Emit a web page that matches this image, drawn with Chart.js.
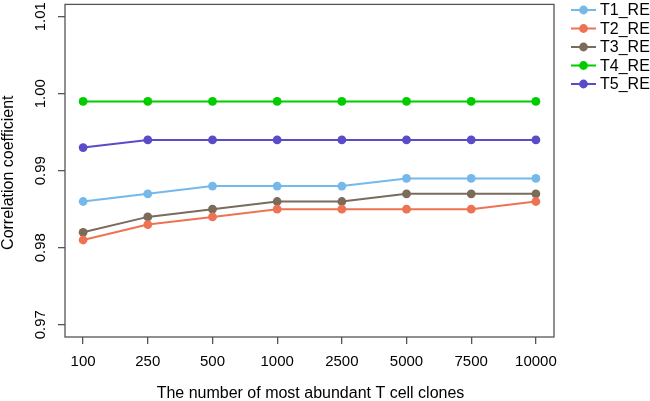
<!DOCTYPE html>
<html><head><meta charset="utf-8">
<script src="https://cdn.jsdelivr.net/npm/chart.js@4"></script>
<style>html,body{margin:0;padding:0;background:#fff}#wrap{width:650px;height:401px}</style>
</head><body><div id="wrap"><canvas id="c" width="650" height="401"></canvas></div>
<script>
const categories = ["100","250","500","1000","2500","5000","7500","10000"];
const seriesNames = ["T1_RE","T2_RE","T3_RE","T4_RE","T5_RE"];
const T1 = [0.986,0.987,0.988,0.988,0.988,0.989,0.989,0.989];
const T2 = [0.981,0.983,0.984,0.985,0.985,0.985,0.985,0.986];
const T3 = [0.982,0.984,0.985,0.986,0.986,0.987,0.987,0.987];
const T4 = [0.999,0.999,0.999,0.999,0.999,0.999,0.999,0.999];
const T5 = [0.993,0.994,0.994,0.994,0.994,0.994,0.994,0.994];
const yTicks = [0.97,0.98,0.99,1.00,1.01];
const yTickLabels = ["0.97","0.98","0.99","1.00","1.01"];
const colors = ["#74B9EA","#EE7352","#7A6B5B","#00CC00","#5A4CC8"];
const xTitle = "The number of most abundant T cell clones";
const yTitle = "Correlation coefficient";

const allSeries = [T1,T2,T3,T4,T5];
const FONT = "Liberation Sans, Arial, sans-serif";
const AX = "#555555";

const datasets = allSeries.map((s,i)=>({
  label: seriesNames[i],
  data: s.map((v,j)=>({x:j+1,y:v})),
  borderColor: colors[i], backgroundColor: colors[i],
  pointBackgroundColor: colors[i], pointBorderColor: colors[i],
  borderWidth: 2, pointRadius: 4.4, pointBorderWidth: 0, pointHoverRadius: 4.4,
  tension: 0
}));

const extras = {
  id: 'extras',
  afterDraw(chart){
    const ctx = chart.ctx, a = chart.chartArea, ys = chart.scales.y;
    ctx.save();
    ctx.strokeStyle = AX; ctx.lineWidth = 1.3;
    ctx.strokeRect(a.left, a.top, a.right-a.left, a.bottom-a.top);
    ctx.fillStyle = "#000"; ctx.font = "15px " + FONT;
    ctx.textAlign = "center"; ctx.textBaseline = "middle";
    yTicks.forEach((v,i)=>{
      const py = ys.getPixelForValue(v);
      ctx.save(); ctx.translate(41, py); ctx.rotate(-Math.PI/2);
      ctx.fillText(yTickLabels[i], 0, 0); ctx.restore();
    });
    ctx.save(); ctx.translate(9, (a.top+a.bottom)/2 + 2); ctx.rotate(-Math.PI/2);
    ctx.font = "16px " + FONT; ctx.fillText(yTitle, 0, 0); ctx.restore();
    ctx.font = "16px " + FONT;
    ctx.fillText(xTitle, (a.left+a.right)/2 + 1, 394);
    ctx.textAlign = "left";
    seriesNames.forEach((n,i)=>{
      const y = 10 + i*18.5;
      ctx.strokeStyle = colors[i]; ctx.lineWidth = 2;
      ctx.beginPath(); ctx.moveTo(571,y); ctx.lineTo(596,y); ctx.stroke();
      ctx.fillStyle = colors[i];
      ctx.beginPath(); ctx.arc(583.5,y,4.4,0,Math.PI*2); ctx.fill();
      ctx.fillStyle = "#000"; ctx.font = "16px " + FONT;
      ctx.fillText(n, 600, y+1);
    });
    ctx.restore();
  }
};

new Chart(document.getElementById('c'), {
  type: 'line',
  data: { datasets },
  options: {
    responsive: false, animation: false, devicePixelRatio: 1,
    layout: { padding: { top: 1, right: 96, left: 0, bottom: 0 } },
    plugins: { legend: { display: false }, tooltip: { enabled: false } },
    scales: {
      x: {
        type: 'linear', min: 0.72, max: 8.28,
        afterBuildTicks: s => { s.ticks = categories.map((_,i)=>({value:i+1})); },
        afterFit: s => { s.height = 64; },
        ticks: { callback: v => categories[v-1], font: { size: 15, family: FONT }, color: "#000", padding: 9, maxRotation: 0, autoSkip: false },
        grid: { drawOnChartArea: false, drawTicks: true, tickLength: 7, color: AX, lineWidth: 1.3 },
        border: { display: false }
      },
      y: {
        type: 'linear', min: 0.9684, max: 1.0116,
        afterBuildTicks: s => { s.ticks = yTicks.map(v=>({value:v})); },
        afterFit: s => { s.width = 65; },
        ticks: { display: false },
        grid: { drawOnChartArea: false, drawTicks: true, tickLength: 7, color: AX, lineWidth: 1.3 },
        border: { display: false }
      }
    }
  },
  plugins: [extras]
});
</script></body></html>
